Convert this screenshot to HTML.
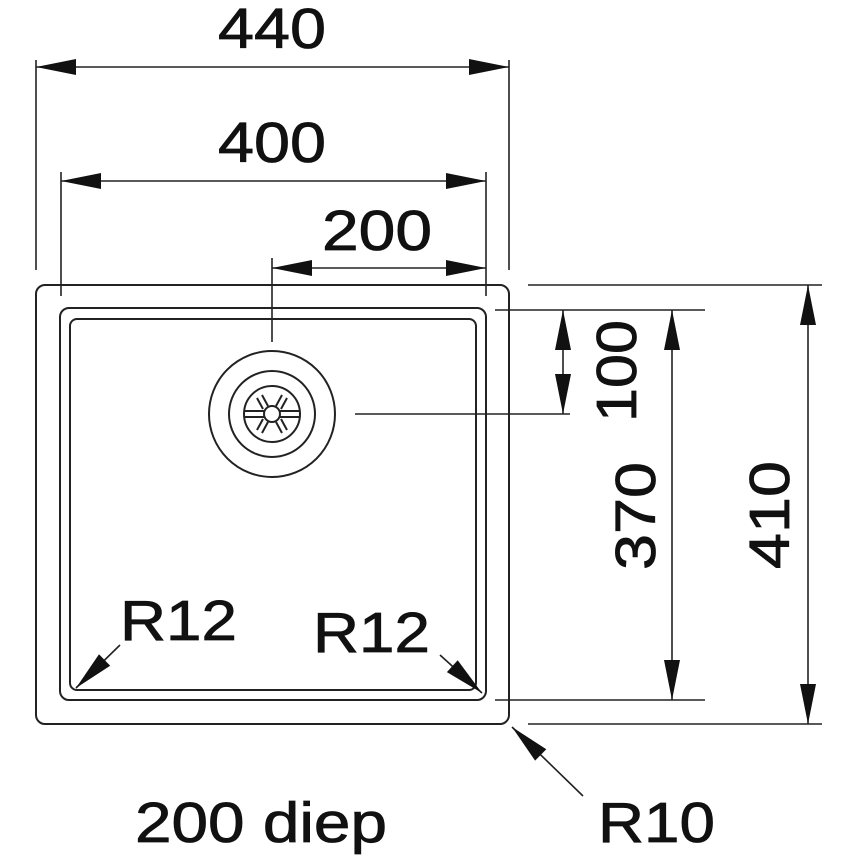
<!DOCTYPE html>
<html><head><meta charset="utf-8"><style>html,body{margin:0;padding:0;background:#fff}svg{display:block}</style></head>
<body>
<svg width="860" height="860" viewBox="0 0 860 860" xmlns="http://www.w3.org/2000/svg">
<g fill="none" stroke="#222" stroke-width="2">
<rect x="36" y="285" width="473" height="439" rx="9"/>
<rect x="60" y="308" width="426" height="392" rx="9"/>
<rect x="70" y="319" width="406" height="371" rx="7"/>
<circle cx="272" cy="414" r="63"/>
<circle cx="272" cy="414" r="43"/>
<circle cx="272" cy="414" r="28"/>
<circle cx="272" cy="414" r="8"/>
<g stroke-width="2">
<path d="M244 411H264M244 417H264M280 411H300M280 417H300"/>
<path d="M262 395L268 406M257 398L263 409M282 395L276 406M287 398L281 409M262 433L268 422M257 430L263 419M282 433L276 422M287 430L281 419"/>
</g>
<g stroke-width="1.6">
<path d="M36 60V270M509 60V270M36 67H509"/>
<path d="M61 172V296M486 172V296M61 181H486"/>
<path d="M272 258V342M272 268H486"/>
<path d="M495 310H705M355 414H570M563 310V414"/>
<path d="M495 700H705M672 310V700"/>
<path d="M528 285H822M528 724H822M808 285V724"/>
<path d="M120 645L76 688M440 655L482 693M583 796L512 727"/>
</g>
</g>
<g fill="#111">
<polygon points="36,67 76,59 76,75"/><polygon points="509,67 469,59 469,75"/>
<polygon points="61,181 101,173 101,189"/><polygon points="486,181 446,173 446,189"/>
<polygon points="272,268 312,260 312,276"/><polygon points="486,268 446,260 446,276"/>
<polygon points="563,310 555,350 571,350"/><polygon points="563,414 555,374 571,374"/>
<polygon points="672,310 664,350 680,350"/><polygon points="672,700 664,660 680,660"/>
<polygon points="808,285 800,325 816,325"/><polygon points="808,724 800,684 816,684"/>
<polygon points="76,688 110.2,665.7 99,654.3"/>
<polygon points="482,693 446.9,672.1 457.7,660.3"/>
<polygon points="512,727 546.3,749.2 535.1,760.6"/>
</g>
<g font-family="Liberation Sans, sans-serif" font-size="57" fill="#111" stroke="#111" stroke-width="0.8">
<text x="218" y="48" textLength="108" lengthAdjust="spacingAndGlyphs">440</text>
<text x="218" y="162" textLength="108" lengthAdjust="spacingAndGlyphs">400</text>
<text x="322" y="250" textLength="110" lengthAdjust="spacingAndGlyphs">200</text>
<text x="120" y="640" textLength="117" lengthAdjust="spacingAndGlyphs">R12</text>
<text x="313" y="652" textLength="117" lengthAdjust="spacingAndGlyphs">R12</text>
<text x="598" y="842" textLength="117" lengthAdjust="spacingAndGlyphs">R10</text>
<text x="135" y="842" textLength="252" lengthAdjust="spacingAndGlyphs">200 diep</text>
<text transform="translate(636,371) rotate(-90)" text-anchor="middle" textLength="102" lengthAdjust="spacingAndGlyphs">100</text>
<text transform="translate(655,516) rotate(-90)" text-anchor="middle" textLength="108" lengthAdjust="spacingAndGlyphs">370</text>
<text transform="translate(789,515) rotate(-90)" text-anchor="middle" textLength="108" lengthAdjust="spacingAndGlyphs">410</text>
</g>
</svg>
</body></html>
